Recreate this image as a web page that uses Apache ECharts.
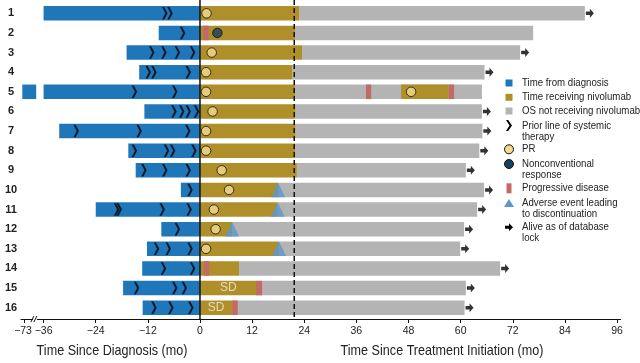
<!DOCTYPE html>
<html><head><meta charset="utf-8">
<script src="https://cdn.jsdelivr.net/npm/echarts@6/dist/echarts.min.js"></script>
<style>html,body{margin:0;padding:0;background:#fff}#c{width:640px;height:363px}</style>
</head><body><div id="c"></div>
<script>
// ---- data (months) ----
const patients = ['1','2','3','4','5','6','7','8','9','10','11','12','13','14','15','16'];
const diagnosisStart = [-36, -9.5, -16.9, -14, -36, -12.8, -32.4, -16.5, -14.8, -4.4, -24, -8.9, -12.2, -13.3, -17.7, -13.2];
// broken-axis part of patient 5 (shown left of the axis break)
const brokenSegments = [[4, -40.9, -37.7]];
const nivoEnd = [22.8, 21.9, 23.5, 21.3, 21.9, 22, 22, 21.9, 22.3, 18.0, 17.9, 7.4, 18.2, 9, 12.9, 7.4];
const osEnd = [88.6, 76.7, 73.7, 65.5, 64.9, 64.9, 65.0, 64.3, 61.2, 65.4, 63.8, 60.8, 59.9, 69.1, 61.2, 60.9];
const alive = [1, 0, 1, 1, 0, 1, 1, 1, 1, 1, 1, 1, 1, 1, 1, 1];
const retreatment = [[4, 46.3, 57.2]];
const progression = [[1, 0.7, 2.0], [4, 38.2, 39.4], [4, 57.2, 58.5], [13, 0.9, 2.1], [14, 12.9, 14.3], [15, 7.4, 8.7]];
const priorLines = [
  [-8.1, -6.9], [-4.0], [-11.1, -8.3, -5.2, -1.7], [-11.9, -10.6, -2.7], [-15.1, -5.8],
  [-6.0, -4.2, -2.7, -0.8], [-28.5, -14.0, -2.8], [-15.1, -7.7, -6.3, -1.4], [-12.9, -8.1, -2.7],
  [-2.3], [-19.2, -18.6, -8.7, -2.5], [-5.2], [-10.0, -7.3, -2.3], [-8.4, -1.7], [-14.6, -5.8, -3.6], [-10.6, -6.7, -2.1]
];
const prPoints = [[0, 1.5], [2, 2.7], [3, 1.4], [4, 1.4], [4, 48.6], [5, 2.9], [6, 1.4], [7, 1.4], [8, 5.0], [9, 6.7], [10, 3.2], [11, 3.6], [12, 1.4]];
const nonconventional = [[1, 4.0]];
const adverseEvents = [[9, 18.0], [10, 17.9], [11, 7.4], [12, 18.2]];
const sdLabels = [[14, 6.5], [15, 3.7]];
const dataLockLine = 21.7;
const brokenTick = -40.5;            // position of the "-73" tick left of the axis break
const brokenTickLabel = '\u221273';
const tickValues = [-36, -24, -12, 0, 12, 24, 36, 48, 60, 72, 84, 96];
const tickLabels = ['\u221236', '\u221224', '\u221212', '0', '12', '24', '36', '48', '60', '72', '84', '96'];

// ---- styles ----
const C = {blue:'#1f77b9', gold:'#ae8f2a', gray:'#b4b4b4', pd:'#c26b66', navy:'#173f5f', pr:'#f6da8e', ae:'#5b97cf'};
const FONT = '"Liberation Sans",Arial,sans-serif';
const BAR_FRAC = 0.74;
const CHEVRON = 'path://M0,0 L3.2,0 L8,6 L3.2,12 L0,12 L4.8,6 Z';
const ARROW = 'path://M0,3 L5,3 L5,0 L10,5 L5,10 L5,7 L0,7 Z';

function barSeries(name, data, color, z) {
  return {
    type: 'custom', name, z, data,
    encode: {x: [1, 2], y: 0},
    renderItem: function (params, api) {
      const y = api.value(0);
      const p1 = api.coord([api.value(1), y]);
      const p2 = api.coord([api.value(2), y]);
      const h = api.size([0, 1])[1] * BAR_FRAC;
      return {type: 'rect', shape: {x: p1[0], y: p1[1] - h / 2, width: p2[0] - p1[0], height: h}, style: {fill: color}};
    }
  };
}

const blueData = diagnosisStart.map((s, i) => [i, s, 0]).concat(brokenSegments);
const goldData = nivoEnd.map((e, i) => [i, 0, e]).concat(retreatment);
const grayData = nivoEnd.map((e, i) => [i, e, osEnd[i]]);
const chevData = [];
priorLines.forEach((arr, i) => arr.forEach(v => chevData.push([v, i])));
const aliveData = [];
alive.forEach((a, i) => { if (a) aliveData.push([osEnd[i], i]); });

const chart = echarts.init(document.getElementById('c'), null, {renderer: 'canvas'});
chart.setOption({
  animation: false,
  grid: {left: 21, right: 19.5, top: 3.5, height: 314},
  xAxis: {
    type: 'value', min: -41.2, max: 96.8, offset: 1.5,
    splitLine: {show: false},
    axisLine: {show: true, lineStyle: {color: '#111', width: 1.2}},
    axisTick: {show: true, length: 4, lineStyle: {color: '#111'}, customValues: [brokenTick].concat(tickValues)},
    axisLabel: {
      customValues: tickValues, margin: 7, color: '#222', fontSize: 10.5, fontFamily: FONT,
      formatter: v => tickLabels[tickValues.indexOf(v)]
    }
  },
  yAxis: {
    type: 'category', data: patients, inverse: true,
    axisLine: {show: false}, axisTick: {show: false}, splitLine: {show: false},
    axisLabel: {margin: 10, align: 'center', color: '#222', fontWeight: 'bold', fontSize: 11, fontFamily: FONT}
  },
  series: [
    barSeries('Time from diagnosis', blueData, C.blue, 2),
    barSeries('OS not receiving nivolumab', grayData, C.gray, 2),
    barSeries('Time receiving nivolumab', goldData, C.gold, 3),
    barSeries('Progressive disease', progression, C.pd, 4),
    {
      type: 'scatter', name: 'Adverse event', z: 5, symbol: 'triangle', symbolSize: [14, 14.5],
      itemStyle: {color: C.ae}, data: adverseEvents.map(d => [d[1], d[0]])
    },
    {
      type: 'scatter', name: 'Prior line', z: 6, symbol: CHEVRON, symbolSize: [5.5, 12.5],
      itemStyle: {color: '#000'}, data: chevData
    },
    {
      type: 'scatter', name: 'PR', z: 7, symbol: 'circle', symbolSize: 9.5,
      itemStyle: {color: C.pr, borderColor: '#111', borderWidth: 1}, data: prPoints.map(d => [d[1], d[0]])
    },
    {
      type: 'scatter', name: 'Nonconventional', z: 7, symbol: 'circle', symbolSize: 9.5,
      itemStyle: {color: C.navy, borderColor: '#111', borderWidth: 1}, data: nonconventional.map(d => [d[1], d[0]])
    },
    {
      type: 'scatter', name: 'Alive', z: 7, symbol: ARROW, symbolSize: [8, 9], symbolOffset: [5, 0],
      itemStyle: {color: '#000'}, data: aliveData
    },
    {
      type: 'scatter', name: 'SD', z: 8, symbolSize: 0, data: sdLabels.map(d => [d[1], d[0]]),
      label: {show: true, position: 'inside', formatter: 'SD', color: '#f4eedb', fontSize: 12, fontFamily: FONT}
    },
    {
      type: 'custom', name: 'lines', z: 9, data: [[0]],
      renderItem: function (params, api) {
        const x0 = api.coord([0, 0])[0];
        const xd = api.coord([dataLockLine, 0])[0];
        const top = params.coordSys.y - 3.5, bot = params.coordSys.y + params.coordSys.height + 1.5;
        return {type: 'group', children: [
          {type: 'line', shape: {x1: x0, y1: top, x2: x0, y2: bot}, style: {stroke: '#111', lineWidth: 1.5}},
          {type: 'line', shape: {x1: xd, y1: top, x2: xd, y2: bot}, style: {stroke: '#111', lineWidth: 1.5, lineDash: [5, 3]}}
        ]};
      }
    }
  ]
});

// axis break marks, titles, legend (decoration)
const bx = chart.convertToPixel({xAxisIndex: 0}, -38);
const tx73 = chart.convertToPixel({xAxisIndex: 0}, brokenTick);
const axY = 3.5 + 314 + 1.5;
const g = [];
g.push({type: 'rect', shape: {x: bx - 2, y: axY - 1.5, width: 4, height: 3}, style: {fill: '#fff'}, z: 100});
g.push({type: 'line', shape: {x1: bx - 4, y1: axY + 3, x2: bx - 1, y2: axY - 3}, style: {stroke: '#111', lineWidth: 1}, z: 101});
g.push({type: 'line', shape: {x1: bx - 1, y1: axY + 3, x2: bx + 2, y2: axY - 3}, style: {stroke: '#111', lineWidth: 1}, z: 101});
g.push({type: 'text', x: tx73 - 1, y: axY + 7, style: {text: brokenTickLabel, fill: '#222', font: '10.5px ' + FONT, textAlign: 'center', textVerticalAlign: 'top'}});
function txt(x, y, t, size, sx, align) {
  g.push({type: 'text', x: x, y: y, scaleX: sx, style: {text: t, fill: '#222', font: size + 'px ' + FONT, textAlign: align || 'left', textVerticalAlign: 'middle'}});
}
txt(112, 351, 'Time Since Diagnosis (mo)', 15, 0.84, 'center');
txt(442, 351, 'Time Since Treatment Initiation (mo)', 15, 0.84, 'center');

const LX = 509, TX = 522;
function ltext(y, t) { txt(TX, y, t, 11.5, 0.84); }
function sq(y, c) { g.push({type: 'rect', shape: {x: LX - 3.5, y: y - 3.5, width: 7, height: 7}, style: {fill: c}}); }
sq(83, C.blue); ltext(83, 'Time from diagnosis');
sq(97.3, C.gold); ltext(97.3, 'Time receiving nivolumab');
sq(111, C.gray); ltext(111, 'OS not receiving nivolumab');
g.push({type: 'polygon', shape: {points: [[LX - 3, 120], [LX - 0.8, 120], [LX + 3, 125.5], [LX - 0.8, 131], [LX - 3, 131], [LX + 0.5, 125.5]]}, style: {fill: '#000'}});
ltext(126, 'Prior line of systemic'); ltext(137, 'therapy');
g.push({type: 'circle', shape: {cx: LX, cy: 149.3, r: 4.5}, style: {fill: C.pr, stroke: '#111', lineWidth: 1}});
ltext(149.3, 'PR');
g.push({type: 'circle', shape: {cx: LX, cy: 164, r: 4.5}, style: {fill: C.navy, stroke: '#111', lineWidth: 1}});
ltext(164, 'Nonconventional'); ltext(175, 'response');
g.push({type: 'rect', shape: {x: LX - 2.5, y: 188.3 - 5, width: 5, height: 10}, style: {fill: C.pd}});
ltext(188.3, 'Progressive disease');
g.push({type: 'polygon', shape: {points: [[LX - 5, 207], [LX + 5, 207], [LX, 199]]}, style: {fill: C.ae}});
ltext(203.3, 'Adverse event leading'); ltext(213.8, 'to discontinuation');
const ay = 227.3;
g.push({type: 'polygon', shape: {points: [[LX - 4, ay - 1.5], [LX, ay - 1.5], [LX, ay - 4], [LX + 4, ay], [LX, ay + 4], [LX, ay + 1.5], [LX - 4, ay + 1.5]]}, style: {fill: '#000'}});
ltext(227.3, 'Alive as of database'); ltext(238.3, 'lock');
chart.setOption({graphic: g});
</script></body></html>
